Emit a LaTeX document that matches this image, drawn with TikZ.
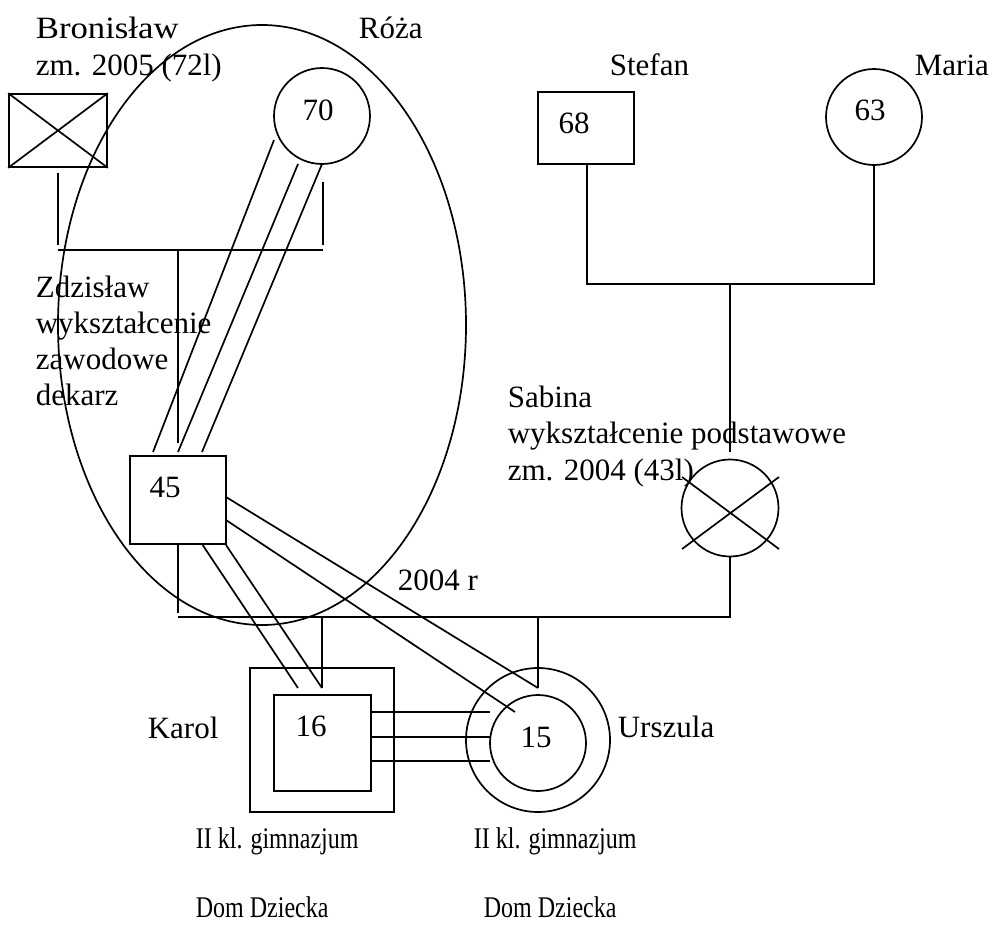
\documentclass[tikz,border=0pt]{standalone}
\usepackage{fontspec}
\usepackage{graphicx}
\setmainfont{Liberation Serif}
\begin{document}
\begin{tikzpicture}[x=1pt,y=-1pt,line width=1.7pt,
  pbox/.style={draw,rectangle,inner sep=0pt},
  pcirc/.style={draw,circle,inner sep=0pt},
  lbl/.style={anchor=base west,inner sep=0pt,font=\fontsize{31}{37}\selectfont},
  num/.style={anchor=base,inner sep=0pt,font=\fontsize{31}{37}\selectfont},
  low/.style={anchor=base west,inner sep=0pt,font=\fontsize{30}{36}\selectfont}]
\useasboundingbox (0,0) rectangle (993,924);
% ellipse
\draw (262,325) ellipse [x radius=204pt, y radius=300pt];
% shapes
\node[pbox,minimum width=98pt,minimum height=73pt] (bron) at (58,130.5) {};
\draw (bron.north west) -- (bron.south east) (bron.north east) -- (bron.south west);
\node[pcirc,minimum size=96pt] (roza) at (322,116) {};
\node[pbox,minimum width=96pt,minimum height=72pt] (stefan) at (586,128) {};
\node[pcirc,minimum size=96pt] (maria) at (874,117) {};
\node[pbox,minimum width=96pt,minimum height=88pt] (zdz) at (178,500) {};
\node[pcirc,minimum size=97pt] (sabina) at (730,508) {};
\node[pbox,minimum width=144pt,minimum height=144pt] (karolout) at (322,740) {};
\node[pbox,minimum width=97pt,minimum height=96pt] (karol) at (322.5,743) {};
\node[pcirc,minimum size=144pt] (urszout) at (538,740) {};
\node[pcirc,minimum size=96pt] (ursz) at (538,743) {};
% numbers
\node[num] (n70) at (318,120) {70};
\node[num] (n68) at (574,133) {68};
\node[num] (n63) at (870,120) {63};
\node[num] (n45) at (165,497) {45};
\node[num] (n16) at (311,736) {16};
\node[num] (n15) at (536,747) {15};
% sabina cross
\coordinate (sx1) at (682,477); \coordinate (sx2) at (779,549);
\coordinate (sx3) at (779,477); \coordinate (sx4) at (682,549);
\draw (sx1) -- (sx2) (sx3) -- (sx4);
% coordinates for connectors
\coordinate (b1) at (58,173); \coordinate (b2) at (58,245);
\coordinate (h1) at (58,250); \coordinate (h2) at (323,250);
\coordinate (r1) at (323,182); \coordinate (r2) at (323,245);
\coordinate (m1) at (178,250); \coordinate (m2) at (178,443);
\draw (b1) -- (b2) (h1) -- (h2) (r1) -- (r2) (m1) -- (m2);
% three lines from Roza to 45
\coordinate (ra) at (274,140); \coordinate (za) at (153,452);
\coordinate (rb) at (298,164); \coordinate (zb) at (178,452);
\coordinate (rc) at (322,164); \coordinate (zc) at (202,452);
\draw (ra) -- (za) (rb) -- (zb) (rc) -- (zc);
% Stefan + Maria
\coordinate (s1) at (587,164); \coordinate (s2) at (587,284);
\coordinate (ma1) at (874,165); \coordinate (ma2) at (874,284);
\coordinate (sj1) at (730,284); \coordinate (sj2) at (730,452);
\draw (s1) -- (s2) -- (ma2) -- (ma1) (sj1) -- (sj2);
% marriage Zdzislaw - Sabina
\coordinate (zd1) at (178,545); \coordinate (zd2) at (178,613);
\coordinate (hl) at (178,617); \coordinate (hr) at (730,617);
\coordinate (sb1) at (730,556);
\draw (zd1) -- (zd2) (hl) -- (hr) -- (sb1);
\coordinate (kd1) at (322,617); \coordinate (kd2) at (322,688);
\coordinate (ud1) at (538,617); \coordinate (ud2) at (538,688);
\draw (kd1) -- (kd2) (ud1) -- (ud2);
% 45 to Karol
\coordinate (k1) at (202,544); \coordinate (k2) at (298,688);
\coordinate (k3) at (226,545);
\draw (k1) -- (k2) (k3) -- (kd2);
% 45 to Urszula
\coordinate (u1) at (226,497); \coordinate (u3) at (226,520); \coordinate (u4) at (515,712);
\draw (u1) -- (ud2) (u3) -- (u4);
% Karol - Urszula
\coordinate (ka) at (371,712); \coordinate (ua) at (490,712);
\coordinate (kb) at (371,737); \coordinate (ub) at (490,737);
\coordinate (kc) at (371,761); \coordinate (uc) at (490,761);
\draw (ka) -- (ua) (kb) -- (ub) (kc) -- (uc);
% labels
\node[lbl] (t1) at (35,38) {\scalebox{1.12}[1]{Bronisław}};
\node[lbl] (t2) at (35,75) {zm. 2005 (72l)};
\node[lbl] (t3) at (358,38) {Róża};
\node[lbl] (t4) at (609,75) {Stefan};
\node[lbl] (t5) at (914,75) {Maria};
\node[lbl] (t6) at (35,297) {Zdzisław};
\node[lbl] (t7) at (35,333) {wykształcenie};
\node[lbl] (t8) at (35,369) {zawodowe};
\node[lbl] (t9) at (35,405) {dekarz};
\node[lbl] (t10) at (507,407) {Sabina};
\node[lbl] (t11) at (507,443) {wykształcenie podstawowe};
\node[lbl] (t12) at (507,480) {zm. 2004 (43l)};
\node[lbl] (t13) at (397,590) {2004 r};
\node[lbl] (t14) at (147,738) {Karol};
\node[lbl] (t15) at (617,737) {Urszula};
\node[low] (t16) at (195,848) {\scalebox{0.8}[1]{II kl. gimnazjum}};
\node[low] (t17) at (473,848) {\scalebox{0.8}[1]{II kl. gimnazjum}};
\node[low] (t18) at (195,917) {\scalebox{0.8}[1]{Dom Dziecka}};
\node[low] (t19) at (483,917) {\scalebox{0.8}[1]{Dom Dziecka}};
\end{tikzpicture}
\end{document}
